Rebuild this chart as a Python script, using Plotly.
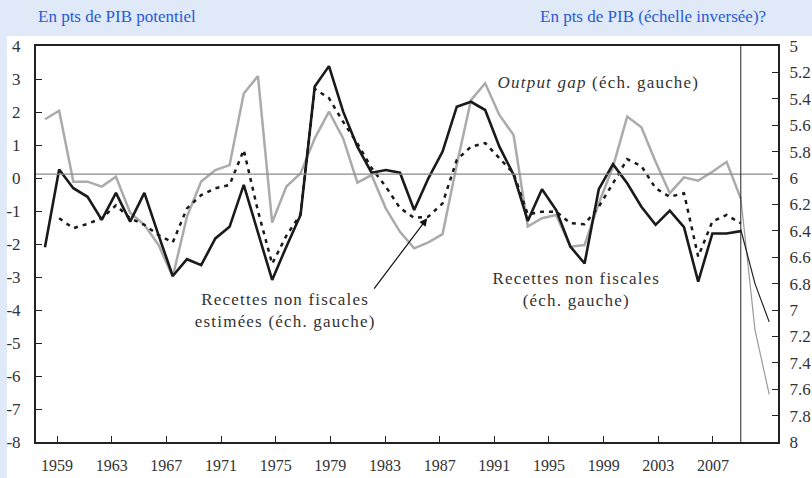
import plotly.graph_objects as go

# Annual series, 1959-2008 (left axis, pts de PIB potentiel)
years = list(range(1959, 2009))
output_gap = [1.78, 2.04, -0.11, -0.11, -0.26, 0.04, -1.05, -1.42, -2.03, -2.99,
              -1.17, -0.11, 0.24, 0.39, 2.56, 3.09, -1.35, -0.26, 0.14, 1.20,
              2.01, 1.20, -0.14, 0.09, -0.92, -1.63, -2.13, -1.95, -1.70, 0.40,
              2.36, 2.87, 1.91, 1.30, -1.47, -1.22, -1.12, -2.08, -2.03, -0.77,
              0.34, 1.86, 1.54, 0.49, -0.46, 0.02, -0.08, 0.19, 0.49, -0.62]
recettes_nf = [-2.10, 0.26, -0.31, -0.57, -1.27, -0.45, -1.32, -0.45, -1.73, -2.97,
               -2.46, -2.64, -1.83, -1.48, -0.21, -1.68, -3.09, -2.08, -1.12, 2.77,
               3.39, 2.01, 0.95, 0.16, 0.24, 0.16, -0.97, -0.01, 0.80, 2.16,
               2.31, 2.06, 0.95, 0.10, -1.30, -0.34, -0.97, -2.08, -2.59, -0.34,
               0.42, -0.16, -0.87, -1.42, -0.99, -1.49, -3.14, -1.68, -1.68, -1.61]

# Estimated series starts one year later
years_est = list(range(1960, 2009))
recettes_nf_est = [-1.22, -1.52, -1.39, -1.22, -0.83, -1.22, -1.42, -1.73, -1.95, -0.92,
                   -0.52, -0.31, -0.21, 0.85, -1.00, -2.60, -1.75, -1.10, 2.70, 2.42,
                   1.70, 1.05, 0.30, -0.26, -0.91, -1.21, -1.17, -0.77, 0.55, 0.95,
                   1.06, 0.60, 0.14, -1.10, -1.02, -1.02, -1.37, -1.40, -0.87, -0.16,
                   0.57, 0.36, -0.31, -0.57, -0.46, -2.38, -1.32, -1.12, -1.37]

# Projection years on the right axis (pts de PIB, reversed scale)
years_proj = [2008, 2009, 2010]
proj_gray = [6.15, 7.15, 7.64]
proj_black = [6.39, 6.80, 7.09]

# Axis labels
tick_years = list(range(1959, 2008, 4))
left_ticks = list(range(-8, 5))
right_ticks = [round(5 + 0.2 * i, 1) for i in range(16)]

FONT = "Liberation Serif"
TXT = "#333333"
BLUE = "#2a5bd7"
GRAY = "#ababab"
BLACK = "#1a1a1a"

fig = go.Figure()

fig.add_trace(go.Scatter(x=years, y=output_gap, mode="lines",
                         line=dict(color=GRAY, width=2.5), hoverinfo="skip"))
fig.add_trace(go.Scatter(x=years_est, y=recettes_nf_est, mode="lines",
                         line=dict(color=BLACK, width=2.5, dash="4px,5px"),
                         hoverinfo="skip"))
fig.add_trace(go.Scatter(x=years, y=recettes_nf, mode="lines",
                         line=dict(color=BLACK, width=2.6), hoverinfo="skip"))
fig.add_trace(go.Scatter(x=years_proj, y=proj_gray, mode="lines", yaxis="y2",
                         line=dict(color="#9a9a9a", width=1.2), hoverinfo="skip"))
fig.add_trace(go.Scatter(x=years_proj, y=proj_black, mode="lines", yaxis="y2",
                         line=dict(color="#222222", width=1.2), hoverinfo="skip"))

# Data axis range, and the (slightly tighter) year scale used for the labels
x_lo, x_hi = 1958.37, 2010.62
lab_lo, lab_hi = 1957.46, 2011.76


def label_pos(y):
    """Map a year on the label scale onto the data axis."""
    return x_lo + (y - lab_lo) * (x_hi - x_lo) / (lab_hi - lab_lo)


fig.update_layout(
    width=812, height=478,
    margin=dict(l=36, r=34, t=46, b=36),
    paper_bgcolor="#dfe9f7",
    plot_bgcolor="white",
    showlegend=False,
    font=dict(family=FONT, color=TXT, size=16),
    xaxis=dict(
        range=[x_lo, x_hi], automargin=False,
        tickvals=[label_pos(y) for y in tick_years],
        ticktext=[str(y) for y in tick_years],
        ticks="inside", ticklen=6, tickwidth=1, tickcolor="#222",
        showline=True, linewidth=2, linecolor="#222", mirror=True,
        showgrid=False, zeroline=False,
        tickfont=dict(family=FONT, size=16, color=TXT),
        ticklabelstandoff=8,
    ),
    yaxis=dict(
        range=[-8, 4], automargin=False,
        tickvals=left_ticks,
        ticktext=[str(v) for v in left_ticks],
        ticks="inside", ticklen=6, tickwidth=1, tickcolor="#222",
        showline=True, linewidth=2, linecolor="#222",
        showgrid=False, zeroline=False,
        tickfont=dict(family=FONT, size=17, color=TXT),
        ticklabelstandoff=10,
    ),
    yaxis2=dict(
        range=[8, 5], overlaying="y", side="right", automargin=False,
        tickvals=right_ticks,
        ticktext=[f"{v:g}" for v in right_ticks],
        ticks="inside", ticklen=6, tickwidth=1, tickcolor="#222",
        showline=True, linewidth=2, linecolor="#222",
        showgrid=False, zeroline=False,
        tickfont=dict(family=FONT, size=17, color=TXT),
        ticklabelstandoff=6,
    ),
)

# White panel behind the chart, leaving the blue header band and left strip
fig.add_shape(type="rect", xref="paper", yref="paper",
              x0=-29 / 742, x1=1.1, y0=-0.1, y1=(442 - 36) / 396,
              fillcolor="white", line=dict(width=0), layer="below")

# Reference line and separator between observed and projected years
fig.add_shape(type="line", xref="x", yref="y", x0=x_lo, x1=2010.27, y0=0.12, y1=0.12,
              line=dict(color="#8a8a8a", width=1.3))
fig.add_shape(type="line", xref="x", yref="y", x0=2008, x1=2008, y0=-8, y1=4,
              line=dict(color="#222", width=1))

# Headers
fig.add_annotation(text="En pts de PIB potentiel", xref="paper", yref="paper",
                   x=0.0, y=(478 - 16 - 36) / 396, xanchor="left", yanchor="middle",
                   showarrow=False, font=dict(family=FONT, size=17, color=BLUE))
fig.add_annotation(text="En pts de PIB (échelle inversée)?", xref="paper", yref="paper",
                   x=(768 - 36) / 742, y=(478 - 16 - 36) / 396, xanchor="right",
                   yanchor="middle", showarrow=False,
                   font=dict(family=FONT, size=17, color=BLUE))

# Series labels (letter-spaced, see post_script below)
LABEL_FONT = dict(family=FONT, size=17, color=TXT)
fig.add_annotation(text="<i>Output gap</i> (éch. gauche)", x=1998.0, y=2.88,
                   xanchor="center", yanchor="middle", showarrow=False,
                   font=LABEL_FONT)
fig.add_annotation(text="Recettes non fiscales<br>(éch. gauche)", x=1996.4, y=-3.39,
                   xanchor="center", yanchor="middle", showarrow=False,
                   font=LABEL_FONT)
fig.add_annotation(text="Recettes non fiscales<br>estimées (éch. gauche)", x=1975.9,
                   y=-4.0, xanchor="center", yanchor="middle", showarrow=False,
                   font=LABEL_FONT)

# Arrow pointing at the estimated series in 1986
i86 = years_est.index(1986)
fig.add_annotation(text="", x=1986, y=recettes_nf_est[i86], ax=1982.1, ay=-3.4,
                   axref="x", ayref="y", xref="x", yref="y", showarrow=True,
                   arrowhead=2, arrowsize=1.3, arrowwidth=1.2, arrowcolor="#111",
                   standoff=2)

# Open letter spacing on the series labels
spacing_js = """
var gd = document.querySelector('.plotly-graph-div');
gd.querySelectorAll('.annotation-text').forEach(function (t) {
  var s = t.textContent;
  if (s.indexOf('Recettes') >= 0 || s.indexOf('Output') >= 0) {
    t.style.letterSpacing = '1.2px';
  }
});
"""

fig.write_html("out.html", post_script=spacing_js)
